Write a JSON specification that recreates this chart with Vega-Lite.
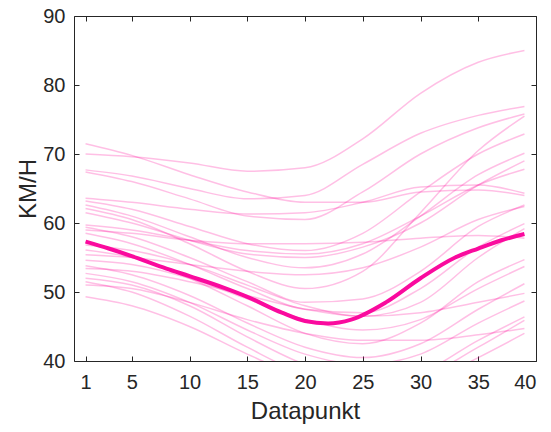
{
  "$schema": "https://vega.github.io/schema/vega-lite/v6.json",
  "width": 462,
  "height": 345,
  "autosize": {"type": "none"},
  "padding": {"left": 74, "top": 16, "right": 15, "bottom": 71},
  "config": {
    "font": "Liberation Sans",
    "view": {"stroke": "#262626", "strokeWidth": 1},
    "axis": {
      "grid": false,
      "domain": false,
      "tickColor": "#262626",
      "tickSize": -5,
      "labelColor": "#262626",
      "titleColor": "#262626",
      "labelFont": "Liberation Sans",
      "titleFont": "Liberation Sans",
      "labelFontSize": 20,
      "titleFontSize": 24,
      "titleFontWeight": "normal"
    }
  },
  "datasets": {
    "thin": [
      {"id": "L1", "x": 1, "y": 70.0}, {"id": "L1", "x": 5, "y": 69.6}, {"id": "L1", "x": 10, "y": 68.7}, {"id": "L1", "x": 15, "y": 67.5}, {"id": "L1", "x": 20, "y": 68.0}, {"id": "L1", "x": 25, "y": 72.2}, {"id": "L1", "x": 30, "y": 78.8}, {"id": "L1", "x": 35, "y": 83.3}, {"id": "L1", "x": 39, "y": 85.0},
      {"id": "L2", "x": 1, "y": 71.5}, {"id": "L2", "x": 5, "y": 69.8}, {"id": "L2", "x": 10, "y": 67.0}, {"id": "L2", "x": 15, "y": 64.5}, {"id": "L2", "x": 20, "y": 63.0}, {"id": "L2", "x": 25, "y": 63.0}, {"id": "L2", "x": 30, "y": 64.5}, {"id": "L2", "x": 35, "y": 64.8}, {"id": "L2", "x": 39, "y": 64.0},
      {"id": "L3", "x": 1, "y": 67.7}, {"id": "L3", "x": 5, "y": 66.8}, {"id": "L3", "x": 10, "y": 65.0}, {"id": "L3", "x": 15, "y": 63.5}, {"id": "L3", "x": 20, "y": 64.0}, {"id": "L3", "x": 25, "y": 68.5}, {"id": "L3", "x": 30, "y": 73.0}, {"id": "L3", "x": 35, "y": 75.6}, {"id": "L3", "x": 39, "y": 76.9},
      {"id": "L4", "x": 1, "y": 67.4}, {"id": "L4", "x": 5, "y": 66.0}, {"id": "L4", "x": 10, "y": 63.5}, {"id": "L4", "x": 15, "y": 61.0}, {"id": "L4", "x": 20, "y": 60.5}, {"id": "L4", "x": 25, "y": 64.5}, {"id": "L4", "x": 30, "y": 70.0}, {"id": "L4", "x": 35, "y": 73.8}, {"id": "L4", "x": 39, "y": 75.8},
      {"id": "L5", "x": 1, "y": 63.6}, {"id": "L5", "x": 5, "y": 63.0}, {"id": "L5", "x": 10, "y": 62.0}, {"id": "L5", "x": 15, "y": 61.3}, {"id": "L5", "x": 20, "y": 61.5}, {"id": "L5", "x": 25, "y": 63.0}, {"id": "L5", "x": 30, "y": 65.2}, {"id": "L5", "x": 35, "y": 65.5}, {"id": "L5", "x": 39, "y": 64.3},
      {"id": "L6", "x": 1, "y": 63.2}, {"id": "L6", "x": 5, "y": 62.0}, {"id": "L6", "x": 10, "y": 59.5}, {"id": "L6", "x": 15, "y": 57.0}, {"id": "L6", "x": 20, "y": 56.0}, {"id": "L6", "x": 25, "y": 58.5}, {"id": "L6", "x": 30, "y": 64.5}, {"id": "L6", "x": 35, "y": 70.0}, {"id": "L6", "x": 39, "y": 72.9},
      {"id": "L7", "x": 1, "y": 62.6}, {"id": "L7", "x": 5, "y": 61.0}, {"id": "L7", "x": 10, "y": 58.0}, {"id": "L7", "x": 15, "y": 55.0}, {"id": "L7", "x": 20, "y": 53.5}, {"id": "L7", "x": 25, "y": 55.5}, {"id": "L7", "x": 30, "y": 61.0}, {"id": "L7", "x": 35, "y": 67.0}, {"id": "L7", "x": 39, "y": 70.1},
      {"id": "L8", "x": 1, "y": 62.1}, {"id": "L8", "x": 5, "y": 60.5}, {"id": "L8", "x": 10, "y": 57.0}, {"id": "L8", "x": 15, "y": 53.0}, {"id": "L8", "x": 20, "y": 50.5}, {"id": "L8", "x": 25, "y": 53.0}, {"id": "L8", "x": 30, "y": 61.5}, {"id": "L8", "x": 35, "y": 70.5}, {"id": "L8", "x": 39, "y": 75.5},
      {"id": "L9", "x": 1, "y": 61.5}, {"id": "L9", "x": 5, "y": 60.0}, {"id": "L9", "x": 10, "y": 57.5}, {"id": "L9", "x": 15, "y": 55.5}, {"id": "L9", "x": 20, "y": 55.0}, {"id": "L9", "x": 25, "y": 56.5}, {"id": "L9", "x": 30, "y": 60.0}, {"id": "L9", "x": 35, "y": 65.5}, {"id": "L9", "x": 39, "y": 69.0},
      {"id": "L10", "x": 1, "y": 59.7}, {"id": "L10", "x": 5, "y": 59.0}, {"id": "L10", "x": 10, "y": 57.5}, {"id": "L10", "x": 15, "y": 56.0}, {"id": "L10", "x": 20, "y": 55.5}, {"id": "L10", "x": 25, "y": 57.0}, {"id": "L10", "x": 30, "y": 61.0}, {"id": "L10", "x": 35, "y": 65.5}, {"id": "L10", "x": 39, "y": 67.8},
      {"id": "L11", "x": 1, "y": 59.4}, {"id": "L11", "x": 5, "y": 58.0}, {"id": "L11", "x": 10, "y": 55.0}, {"id": "L11", "x": 15, "y": 51.5}, {"id": "L11", "x": 20, "y": 48.5}, {"id": "L11", "x": 25, "y": 49.0}, {"id": "L11", "x": 30, "y": 53.0}, {"id": "L11", "x": 35, "y": 59.5}, {"id": "L11", "x": 39, "y": 62.6},
      {"id": "L12", "x": 1, "y": 59.0}, {"id": "L12", "x": 5, "y": 58.5}, {"id": "L12", "x": 10, "y": 57.5}, {"id": "L12", "x": 15, "y": 57.0}, {"id": "L12", "x": 20, "y": 57.0}, {"id": "L12", "x": 25, "y": 57.2}, {"id": "L12", "x": 30, "y": 57.8}, {"id": "L12", "x": 35, "y": 58.2}, {"id": "L12", "x": 39, "y": 57.8},
      {"id": "L13", "x": 1, "y": 58.5}, {"id": "L13", "x": 5, "y": 57.0}, {"id": "L13", "x": 10, "y": 54.0}, {"id": "L13", "x": 15, "y": 50.5}, {"id": "L13", "x": 20, "y": 47.5}, {"id": "L13", "x": 25, "y": 47.0}, {"id": "L13", "x": 30, "y": 50.5}, {"id": "L13", "x": 35, "y": 56.5}, {"id": "L13", "x": 39, "y": 59.9},
      {"id": "L14", "x": 1, "y": 56.8}, {"id": "L14", "x": 5, "y": 56.0}, {"id": "L14", "x": 10, "y": 54.0}, {"id": "L14", "x": 15, "y": 51.0}, {"id": "L14", "x": 20, "y": 48.0}, {"id": "L14", "x": 25, "y": 46.5}, {"id": "L14", "x": 30, "y": 48.5}, {"id": "L14", "x": 35, "y": 55.0}, {"id": "L14", "x": 39, "y": 59.2},
      {"id": "L15", "x": 1, "y": 56.1}, {"id": "L15", "x": 5, "y": 55.0}, {"id": "L15", "x": 10, "y": 52.0}, {"id": "L15", "x": 15, "y": 48.0}, {"id": "L15", "x": 20, "y": 44.0}, {"id": "L15", "x": 25, "y": 42.5}, {"id": "L15", "x": 30, "y": 45.5}, {"id": "L15", "x": 35, "y": 51.5}, {"id": "L15", "x": 39, "y": 54.7},
      {"id": "L16", "x": 1, "y": 55.4}, {"id": "L16", "x": 5, "y": 55.0}, {"id": "L16", "x": 10, "y": 54.0}, {"id": "L16", "x": 15, "y": 53.0}, {"id": "L16", "x": 20, "y": 52.5}, {"id": "L16", "x": 25, "y": 53.5}, {"id": "L16", "x": 30, "y": 56.5}, {"id": "L16", "x": 35, "y": 60.5}, {"id": "L16", "x": 39, "y": 62.4},
      {"id": "L17", "x": 1, "y": 54.6}, {"id": "L17", "x": 5, "y": 54.0}, {"id": "L17", "x": 10, "y": 52.0}, {"id": "L17", "x": 15, "y": 49.0}, {"id": "L17", "x": 20, "y": 46.0}, {"id": "L17", "x": 25, "y": 44.5}, {"id": "L17", "x": 30, "y": 46.0}, {"id": "L17", "x": 35, "y": 50.5}, {"id": "L17", "x": 39, "y": 53.7},
      {"id": "L18", "x": 1, "y": 53.8}, {"id": "L18", "x": 5, "y": 52.5}, {"id": "L18", "x": 10, "y": 49.5}, {"id": "L18", "x": 15, "y": 45.5}, {"id": "L18", "x": 20, "y": 42.0}, {"id": "L18", "x": 25, "y": 40.5}, {"id": "L18", "x": 30, "y": 42.5}, {"id": "L18", "x": 35, "y": 47.5}, {"id": "L18", "x": 39, "y": 51.2},
      {"id": "L19", "x": 1, "y": 53.4}, {"id": "L19", "x": 5, "y": 53.0}, {"id": "L19", "x": 10, "y": 51.5}, {"id": "L19", "x": 15, "y": 49.5}, {"id": "L19", "x": 20, "y": 47.5}, {"id": "L19", "x": 25, "y": 46.5}, {"id": "L19", "x": 30, "y": 47.0}, {"id": "L19", "x": 35, "y": 48.5}, {"id": "L19", "x": 39, "y": 49.8},
      {"id": "L20", "x": 1, "y": 52.7}, {"id": "L20", "x": 5, "y": 51.5}, {"id": "L20", "x": 10, "y": 48.5}, {"id": "L20", "x": 15, "y": 44.5}, {"id": "L20", "x": 20, "y": 41.0}, {"id": "L20", "x": 25, "y": 39.5}, {"id": "L20", "x": 30, "y": 41.0}, {"id": "L20", "x": 35, "y": 45.5}, {"id": "L20", "x": 39, "y": 48.7},
      {"id": "L21", "x": 1, "y": 52.0}, {"id": "L21", "x": 5, "y": 51.0}, {"id": "L21", "x": 10, "y": 48.0}, {"id": "L21", "x": 15, "y": 43.5}, {"id": "L21", "x": 20, "y": 39.5}, {"id": "L21", "x": 25, "y": 37.5}, {"id": "L21", "x": 30, "y": 38.5}, {"id": "L21", "x": 35, "y": 43.0}, {"id": "L21", "x": 39, "y": 46.4},
      {"id": "L22", "x": 1, "y": 51.5}, {"id": "L22", "x": 5, "y": 50.0}, {"id": "L22", "x": 10, "y": 46.5}, {"id": "L22", "x": 15, "y": 42.0}, {"id": "L22", "x": 20, "y": 38.0}, {"id": "L22", "x": 25, "y": 36.0}, {"id": "L22", "x": 30, "y": 37.5}, {"id": "L22", "x": 35, "y": 42.0}, {"id": "L22", "x": 39, "y": 45.9},
      {"id": "L23", "x": 1, "y": 51.0}, {"id": "L23", "x": 5, "y": 50.5}, {"id": "L23", "x": 10, "y": 48.5}, {"id": "L23", "x": 15, "y": 46.0}, {"id": "L23", "x": 20, "y": 44.0}, {"id": "L23", "x": 25, "y": 43.0}, {"id": "L23", "x": 30, "y": 43.0}, {"id": "L23", "x": 35, "y": 43.8}, {"id": "L23", "x": 39, "y": 44.7},
      {"id": "L24", "x": 1, "y": 49.3}, {"id": "L24", "x": 5, "y": 48.0}, {"id": "L24", "x": 10, "y": 45.0}, {"id": "L24", "x": 15, "y": 41.0}, {"id": "L24", "x": 20, "y": 37.5}, {"id": "L24", "x": 25, "y": 35.5}, {"id": "L24", "x": 30, "y": 36.5}, {"id": "L24", "x": 35, "y": 40.5}, {"id": "L24", "x": 39, "y": 44.0}
    ],
    "mean": [
      {"x": 1, "y": 57.3}, {"x": 3, "y": 56.3}, {"x": 5, "y": 55.2}, {"x": 8, "y": 53.4}, {"x": 10, "y": 52.3},
      {"x": 13, "y": 50.6}, {"x": 15, "y": 49.3}, {"x": 18, "y": 47.0}, {"x": 20, "y": 45.8}, {"x": 22, "y": 45.45},
      {"x": 24, "y": 46.0}, {"x": 27, "y": 48.5}, {"x": 30, "y": 52.0}, {"x": 33, "y": 55.0}, {"x": 35, "y": 56.3},
      {"x": 37, "y": 57.5}, {"x": 39, "y": 58.4}
    ]
  },
  "layer": [
    {
      "data": {"name": "thin"},
      "mark": {"type": "line", "interpolate": "monotone", "clip": true, "color": "#ff0099", "opacity": 0.25, "strokeWidth": 1.5},
      "encoding": {
        "x": {"field": "x", "type": "quantitative", "scale": {"domain": [0, 40], "nice": false},
              "axis": {"orient": "bottom", "values": [1, 5, 10, 15, 20, 25, 30, 35, 40], "title": "Datapunkt", "labelPadding": 16, "titlePadding": 7}},
        "y": {"field": "y", "type": "quantitative", "scale": {"domain": [40, 90], "nice": false},
              "axis": {"orient": "left", "values": [40, 50, 60, 70, 80, 90], "title": "KM/H", "labelPadding": 14, "titlePadding": 2}},
        "detail": {"field": "id"}
      }
    },
    {
      "data": {"name": "mean"},
      "mark": {"type": "line", "interpolate": "monotone", "clip": true, "color": "#fa0a9e", "strokeWidth": 4},
      "encoding": {
        "x": {"field": "x", "type": "quantitative", "scale": {"domain": [0, 40], "nice": false},
              "axis": {"orient": "top", "values": [1, 5, 10, 15, 20, 25, 30, 35, 40], "labels": false, "title": null}},
        "y": {"field": "y", "type": "quantitative", "scale": {"domain": [40, 90], "nice": false},
              "axis": {"orient": "right", "values": [40, 50, 60, 70, 80, 90], "labels": false, "title": null}}
      }
    }
  ],
  "resolve": {"axis": {"x": "independent", "y": "independent"}}
}
